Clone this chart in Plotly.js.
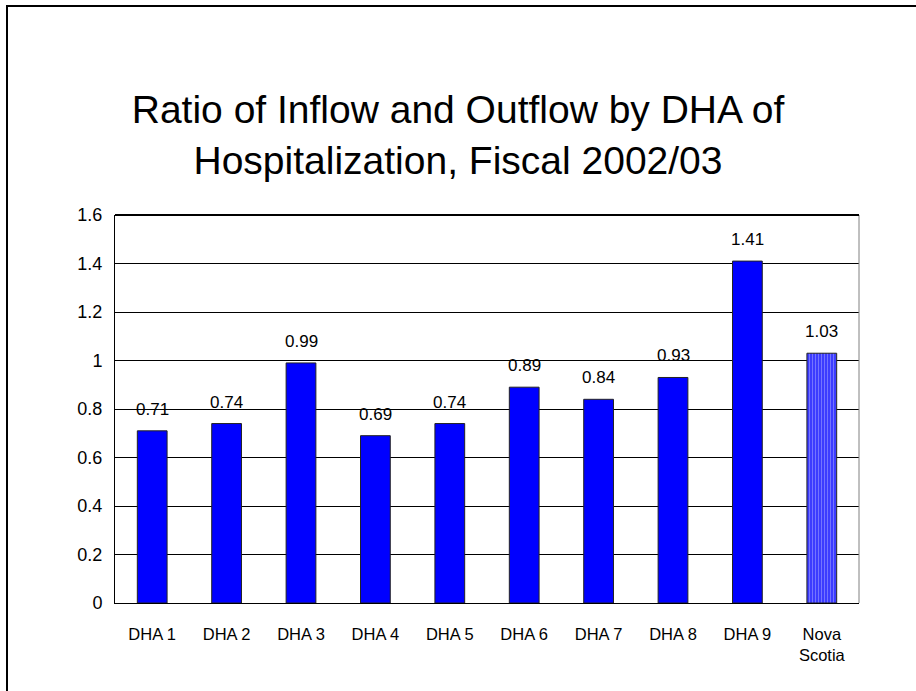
<!DOCTYPE html>
<html>
<head>
<meta charset="utf-8">
<script src="https://cdn.plot.ly/plotly-3.0.1.min.js"></script>
<style>
html,body{margin:0;padding:0;background:#fff;overflow:hidden;}
#frame{position:absolute;left:6px;top:5px;width:1000px;height:1000px;border:2px solid #000;box-sizing:border-box;}
#chart{position:absolute;left:0;top:0;width:916px;height:691px;}
</style>
</head>
<body>
<div id="frame"></div>
<div id="chart"></div>
<script>
const categories = ["DHA 1","DHA 2","DHA 3","DHA 4","DHA 5","DHA 6","DHA 7","DHA 8","DHA 9","Nova<br>Scotia"];
const ratios = [0.71, 0.74, 0.99, 0.69, 0.74, 0.89, 0.84, 0.93, 1.41, 1.03];
const valueLabels = ["0.71","0.74","0.99","0.69","0.74","0.89","0.84","0.93","1.41","1.03"];
const yTicks = [0, 0.2, 0.4, 0.6, 0.8, 1, 1.2, 1.4, 1.6];
const yTickLabels = ["0","0.2","0.4","0.6","0.8","1","1.2","1.4","1.6"];

const font = "Liberation Sans, Arial, sans-serif";
const n = categories.length;

const traces = [
  {
    type: "bar",
    x: categories.slice(0, n - 1),
    y: ratios.slice(0, n - 1),
    marker: {color: "#0000FF", line: {color: "#222222", width: 1}},
    width: 0.4,
    hoverinfo: "x+y",
    showlegend: false
  },
  {
    type: "bar",
    x: categories.slice(n - 1),
    y: ratios.slice(n - 1),
    marker: {
      color: "#3333FF",
      line: {color: "#222222", width: 1},
      pattern: {shape: "|", bgcolor: "#3030FF", fgcolor: "#B8B8FF", size: 3, solidity: 0.45, fillmode: "overlay"}
    },
    width: 0.4,
    hoverinfo: "x+y",
    showlegend: false
  }
];

const annotations = categories.map((c, i) => ({
  x: c, y: ratios[i], xref: "x", yref: "y",
  text: valueLabels[i], showarrow: false,
  yanchor: "bottom", yshift: 10,
  font: {family: font, size: 17, color: "#000"}
}));

const layout = {
  width: 916, height: 691, autosize: false,
  margin: {l: 115, r: 57, t: 215, b: 88, pad: 0},
  paper_bgcolor: "rgba(0,0,0,0)",
  plot_bgcolor: "#fff",
  barmode: "overlay",
  title: {
    text: "Ratio of Inflow and Outflow by DHA of<br>Hospitalization, Fiscal 2002/03",
    font: {family: font, size: 39, color: "#000"},
    x: 0.5, xref: "container", xanchor: "center",
    y: 1 - 123/691, yref: "container", yanchor: "middle"
  },
  xaxis: {
    type: "category",
    categoryorder: "array", categoryarray: categories,
    showgrid: false, showline: true, linecolor: "#000", linewidth: 1,
    ticks: "", ticklabelstandoff: 16,
    tickfont: {family: font, size: 16.5, color: "#000"},
    fixedrange: true
  },
  yaxis: {
    range: [0, 1.6],
    tickvals: yTicks, ticktext: yTickLabels,
    showgrid: true, gridcolor: "#000", gridwidth: 1,
    showline: true, linecolor: "#000", linewidth: 1,
    zeroline: false,
    ticks: "", ticklabelstandoff: 8,
    tickfont: {family: font, size: 18, color: "#000"},
    fixedrange: true
  },
  shapes: [
    {type: "line", xref: "paper", yref: "paper", x0: 1, x1: 1, y0: 0, y1: 1, line: {color: "#808080", width: 1}},
    {type: "line", xref: "paper", yref: "paper", x0: 0, x1: 1, y0: 1, y1: 1, line: {color: "#000", width: 2}}
  ],
  annotations: annotations,
  bargap: 0.6
};

Plotly.newPlot("chart", traces, layout, {displayModeBar: false, staticPlot: true});
</script>
</body>
</html>
